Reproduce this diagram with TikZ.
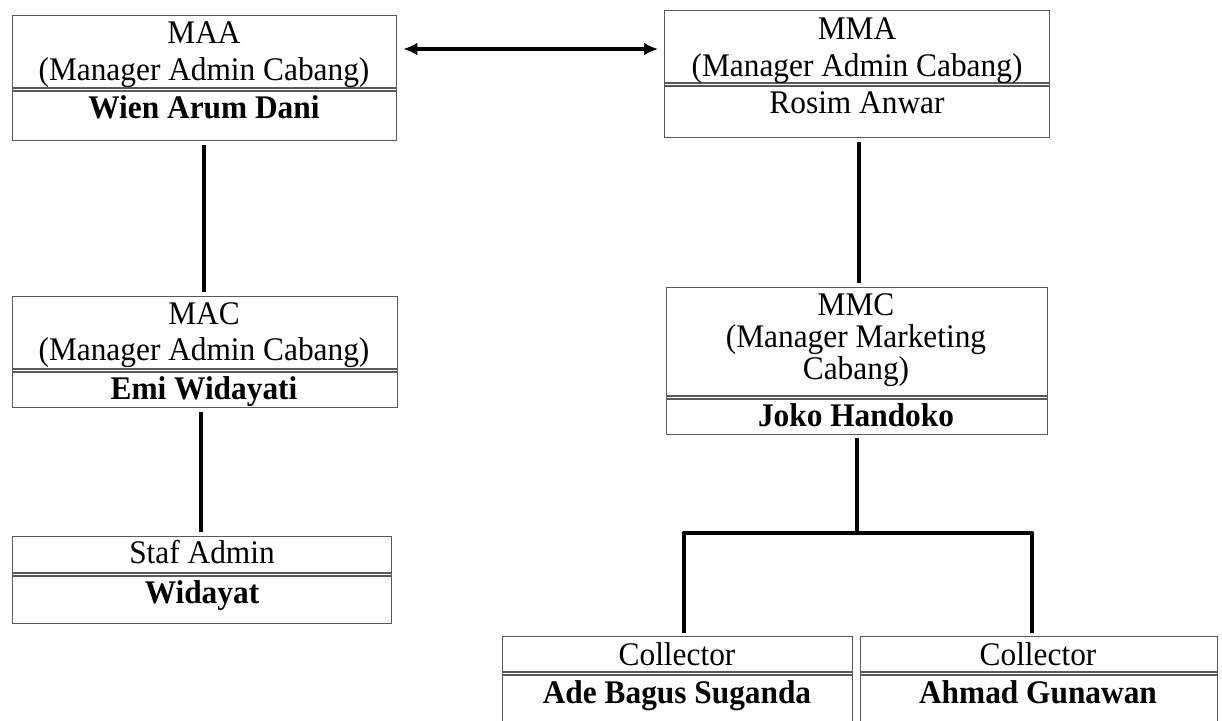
\documentclass[tikz,border=0pt]{standalone}
\usepackage{fontspec}
\setmainfont{Liberation Serif}[FakeStretch=0.95]
\usetikzlibrary{arrows.meta}
\begin{document}
\begin{tikzpicture}[x=1pt,y=-1pt,
  orgbox/.style={draw=black!65, line width=1.4pt, inner sep=0pt, anchor=north west},
  divline/.style={draw=black!65, line width=1.1pt},
  lbl/.style={anchor=base, inner sep=0pt, font=\fontsize{33}{36}\selectfont},
  blbl/.style={lbl, font=\fontsize{33}{36}\selectfont\bfseries},
  conn/.style={line width=4pt, shorten <=4pt, shorten >=4pt}]
\clip (0,0) rectangle (1222,720);
\fill[white] (0,0) rectangle (1222,720);
% boxes
\node[orgbox, minimum width=384, minimum height=125] (maa) at (12,15) {};
\node[orgbox, minimum width=385, minimum height=127] (mma) at (664,10) {};
\node[orgbox, minimum width=385, minimum height=111] (mac) at (12,296) {};
\node[orgbox, minimum width=379, minimum height=87] (staf) at (12,536) {};
\node[orgbox, minimum width=381, minimum height=147] (mmc) at (666,287) {};
\node[orgbox, minimum width=350, minimum height=110] (col1) at (502,636) {};
\node[orgbox, minimum width=357, minimum height=110] (col2) at (860,636) {};
% dividers
\foreach \b/\ya/\yb in {maa/88/91, mma/83/86, mac/369/372, staf/573/576, mmc/396/399, col1/672/675, col2/672/675}{
  \draw[divline] (\b.west |- 0,\ya) -- (\b.east |- 0,\ya);
  \draw[divline] (\b.west |- 0,\yb) -- (\b.east |- 0,\yb);
}
% texts
\node[lbl] (t1) at (204,43) {MAA};
\node[lbl] (t2) at (204,80) {(Manager Admin Cabang)};
\node[blbl] (t3) at (204,118) {Wien Arum Dani};
\node[lbl] (t4) at (857,39) {MMA};
\node[lbl] (t5) at (857,76) {(Manager Admin Cabang)};
\node[lbl] (t6) at (857,113) {Rosim Anwar};
\node[lbl] (t7) at (204,324) {MAC};
\node[lbl] (t8) at (204,360) {(Manager Admin Cabang)};
\node[blbl] (t9) at (204,399) {Emi Widayati};
\node[lbl] (t10) at (202,563) {Staf Admin};
\node[blbl] (t11) at (202,603) {Widayat};
\node[lbl] (t12) at (856,315) {MMC};
\node[lbl] (t13) at (856,347) {(Manager Marketing};
\node[lbl] (t14) at (856,379) {Cabang)};
\node[blbl] (t15) at (856,426) {Joko Handoko};
\node[lbl] (t16) at (677,665) {Collector};
\node[blbl] (t17) at (677,703) {Ade Bagus Suganda};
\node[lbl] (t18) at (1038,665) {Collector};
\node[blbl] (t19) at (1038,703) {Ahmad Gunawan};
% connectors
\draw[conn] ([xshift=-1pt]maa.south) -- ([xshift=-1pt]maa.south |- mac.north);
\draw[conn] ([xshift=-4pt]mac.south) -- ([xshift=-4pt]mac.south |- staf.north);
\draw[conn] ([xshift=2pt]mma.south) -- ([xshift=2pt]mma.south |- mmc.north);
\coordinate (br) at ([yshift=-98pt]mmc.south);
\draw[line width=4pt, shorten <=3pt] (mmc.south) -- (br);
\draw[line width=4pt, shorten >=3pt] ([xshift=6pt]col1.north |- br) -- ([xshift=6pt]col1.north);
\draw[line width=4pt, shorten >=3pt] ([xshift=-7pt]col2.north |- br) -- ([xshift=-7pt]col2.north);
\draw[line width=4pt, line cap=round] ([xshift=6pt]col1.north |- br) -- ([xshift=-7pt]col2.north |- br);
\coordinate (al) at (maa.east |- 0,49);
\coordinate (ar) at (mma.west |- 0,49);
\draw[line width=3.5pt, shorten <=6pt, shorten >=6pt, {Latex[length=14pt,width=13pt]}-{Latex[length=14pt,width=13pt]}] (al) -- (ar);
\end{tikzpicture}
\end{document}
